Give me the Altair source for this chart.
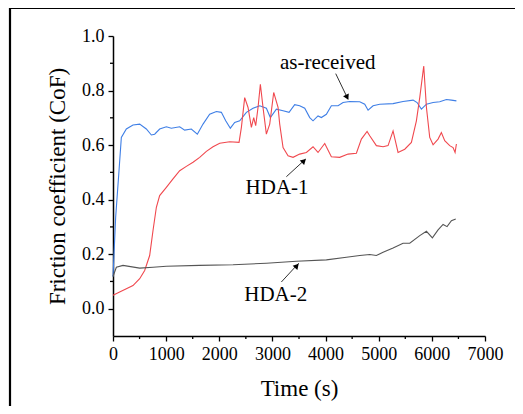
import altair as alt
import pandas as pd

# ---- data ----
blue_t = [0, 50, 113, 157, 251, 376, 502, 627, 722, 784, 878, 1004, 1098, 1255, 1349, 1474, 1587, 1694,
          1819, 1945, 2039, 2121, 2208, 2290, 2384, 2510, 2635, 2761, 2886, 2961, 3074, 3200, 3313, 3419,
          3513, 3608, 3702, 3764, 3858, 3921, 4015, 4109, 4235, 4329, 4454, 4643, 4737, 4800, 4894, 5019,
          5270, 5458, 5647, 5722, 5803, 5898, 6023, 6148, 6274, 6368, 6462]
blue_y = [0.118, 0.335, 0.506, 0.628, 0.659, 0.674, 0.677, 0.659, 0.637, 0.640, 0.659, 0.667, 0.662, 0.667,
          0.655, 0.659, 0.640, 0.677, 0.713, 0.723, 0.720, 0.689, 0.662, 0.683, 0.689, 0.720, 0.735, 0.744,
          0.735, 0.701, 0.732, 0.726, 0.720, 0.748, 0.744, 0.735, 0.701, 0.689, 0.707, 0.701, 0.713, 0.744,
          0.744, 0.756, 0.760, 0.759, 0.750, 0.728, 0.744, 0.750, 0.752, 0.760, 0.765, 0.756, 0.732, 0.750,
          0.756, 0.759, 0.767, 0.765, 0.762]

red_t = [0, 125, 251, 376, 502, 596, 690, 753, 816, 878, 1004, 1129, 1255, 1380, 1506, 1631, 1757, 1882,
         2008, 2196, 2372, 2416, 2478, 2541, 2604, 2648, 2685, 2729, 2773, 2823, 2886, 2949, 3024, 3106,
         3137, 3200, 3294, 3388, 3513, 3639, 3764, 3858, 3984, 4109, 4266, 4423, 4580, 4674, 4781, 4831,
         4956, 5082, 5176, 5270, 5364, 5490, 5615, 5709, 5772, 5847, 5898, 5960, 6023, 6117, 6179, 6242,
         6336, 6399, 6437, 6462]
red_y = [0.049, 0.061, 0.073, 0.085, 0.110, 0.140, 0.195, 0.287, 0.372, 0.415, 0.445, 0.476, 0.506, 0.522,
         0.537, 0.555, 0.577, 0.594, 0.607, 0.612, 0.610, 0.665, 0.774, 0.738, 0.665, 0.701, 0.671, 0.738,
         0.823, 0.738, 0.640, 0.677, 0.793, 0.738, 0.677, 0.591, 0.561, 0.555, 0.567, 0.573, 0.594, 0.573,
         0.606, 0.557, 0.555, 0.567, 0.570, 0.622, 0.650, 0.634, 0.598, 0.594, 0.598, 0.652, 0.573, 0.585,
         0.610, 0.689, 0.774, 0.890, 0.738, 0.628, 0.601, 0.622, 0.646, 0.616, 0.598, 0.591, 0.573, 0.604]

gray_t = [0, 63, 188, 502, 753, 1004, 1631, 2259, 2886, 3451, 4015, 4392, 4643, 4831, 4956, 5082, 5270,
          5458, 5584, 5772, 5898, 6010, 6117, 6211, 6286, 6368, 6450]
gray_y = [0.118, 0.152, 0.159, 0.149, 0.152, 0.156, 0.159, 0.161, 0.167, 0.174, 0.179, 0.189, 0.195, 0.199,
          0.195, 0.207, 0.223, 0.240, 0.240, 0.268, 0.284, 0.260, 0.289, 0.309, 0.301, 0.323, 0.329]

labels = ["as-received", "HDA-1", "HDA-2"]
label_t = [4040, 3087, 3062]
label_y = [0.902, 0.443, 0.049]
arrow_t0 = [4191, 3262, 3168]
arrow_y0 = [0.862, 0.484, 0.098]
arrow_t1 = [4423, 3626, 3495]
arrow_y1 = [0.768, 0.549, 0.167]
head_t = [4398, 3580, 3448]
head_y = [0.778, 0.540, 0.155]
head_angle = [154, 46, 42]

x_major = [0, 1000, 2000, 3000, 4000, 5000, 6000, 7000]
x_minor = [500, 1500, 2500, 3500, 4500, 5500, 6500]
y_major = [0.0, 0.2, 0.4, 0.6, 0.8, 1.0]
y_minor = [0.1, 0.3, 0.5, 0.7, 0.9]

FONT = "Liberation Serif"
W, H = 372, 300

series = pd.concat([
    pd.DataFrame({"t": blue_t, "cof": blue_y, "s": "as-received"}),
    pd.DataFrame({"t": red_t, "cof": red_y, "s": "HDA-1"}),
    pd.DataFrame({"t": gray_t, "cof": gray_y, "s": "HDA-2"}),
], ignore_index=True)
series["o"] = range(len(series))

ann = pd.DataFrame({"label": labels, "lt": label_t, "ly": label_y,
                    "t0": arrow_t0, "y0": arrow_y0, "t1": arrow_t1, "y1": arrow_y1,
                    "ht": head_t, "hy": head_y, "ang": head_angle})

xs = alt.Scale(domain=[0, 7000], nice=False)
ys = alt.Scale(domain=[-0.1, 1.0], nice=False)

base_x = alt.X("t:Q", scale=xs,
               axis=alt.Axis(values=x_major, title="Time (s)", format="d", tickSize=5,
                             labelPadding=4, titlePadding=14, labelOverlap=False, labelFlush=False))
base_y = alt.Y("cof:Q", scale=ys,
               axis=alt.Axis(values=y_major, title="Friction coefficient (CoF)", format=".1f",
                             tickSize=5, labelPadding=4, titlePadding=12, labelOverlap=False))

lines = alt.Chart(series).mark_line(strokeWidth=1.1).encode(
    x=base_x, y=base_y, order="o:Q",
    color=alt.Color("s:N", scale=alt.Scale(domain=["as-received", "HDA-1", "HDA-2"],
                                           range=["#3f7fe6", "#f0484e", "#555555"]),
                    legend=None),
)

minor_x = alt.Chart(pd.DataFrame({"t": x_minor})).mark_rule(color="black", strokeWidth=1.3).encode(
    x=alt.X("t:Q", scale=xs), y=alt.value(H), y2=alt.value(H + 3))
minor_y = alt.Chart(pd.DataFrame({"cof": y_minor})).mark_rule(color="black", strokeWidth=1.3).encode(
    y=alt.Y("cof:Q", scale=ys), x=alt.value(0), x2=alt.value(-3))

texts = alt.Chart(ann).mark_text(font=FONT, fontSize=21, color="black", baseline="middle").encode(
    x=alt.X("lt:Q", scale=xs), y=alt.Y("ly:Q", scale=ys), text="label:N")

arrows = alt.Chart(ann).mark_rule(color="#333333", strokeWidth=1).encode(
    x=alt.X("t0:Q", scale=xs), y=alt.Y("y0:Q", scale=ys),
    x2="t1:Q", y2="y1:Q")

heads = alt.Chart(ann).mark_point(shape="triangle", filled=True, color="black", size=40,
                                  opacity=1).encode(
    x=alt.X("ht:Q", scale=xs), y=alt.Y("hy:Q", scale=ys), angle=alt.Angle("ang:Q", scale=None))

frame_top = alt.Chart(pd.DataFrame({"a": [0]})).mark_rule(color="black", strokeWidth=2.2).encode(
    x=alt.value(-104), x2=alt.value(420), y=alt.value(-28), y2=alt.value(-28))
frame_left = alt.Chart(pd.DataFrame({"a": [0]})).mark_rule(color="black", strokeWidth=2.2).encode(
    x=alt.value(-103), x2=alt.value(-103), y=alt.value(-29), y2=alt.value(400))

chart = alt.layer(lines, minor_x, minor_y, arrows, heads, texts, frame_top, frame_left).properties(
    width=W, height=H,
    autosize=alt.AutoSizeParams(type="none"),
    padding={"left": 105, "top": 28, "right": 30, "bottom": 70},
).configure_view(stroke=None).configure_axis(
    grid=False, domainColor="black", domainWidth=1.5, tickColor="black", tickWidth=1.3,
    labelFont=FONT, labelFontSize=18, labelColor="black",
    titleFont=FONT, titleFontSize=23, titleFontWeight="normal", titleColor="black",
)

chart.save("out.html", embed_options={"renderer": "svg", "actions": False})
